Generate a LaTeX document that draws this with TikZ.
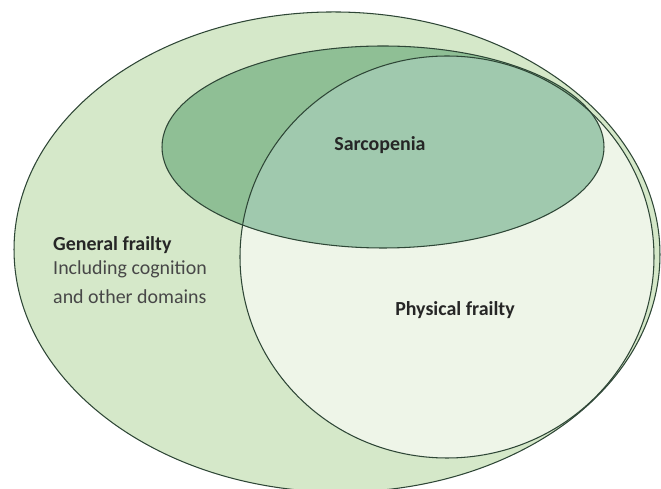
\documentclass[tikz,border=0pt]{standalone}
\usepackage{fontspec}
\setmainfont{Carlito}
\usepackage{tikz}
\definecolor{outline}{HTML}{2E4636}
\definecolor{general}{HTML}{D5E8C9}
\definecolor{physical}{HTML}{EEF5E8}
\definecolor{sarco}{HTML}{8FBF95}
\definecolor{overlap}{HTML}{A0C9AE}

\begin{document}
\begin{tikzpicture}[x=0.03cm, y=-0.03cm, every node/.style={font=\fontsize{17}{21.5}\selectfont, inner sep=0pt}, set/.style={draw=outline, line width=0.9pt}, lbl/.style={font=\fontsize{17}{21.5}\selectfont\bfseries, text=black!85}, sub/.style={text=black!72, align=left}]
	\useasboundingbox (0,0) rectangle (661,489);
	\coordinate (g) at (337,252);
	\coordinate (p) at (447,257);
	\coordinate (s) at (383,147);
	\fill[general, rotate around={-1:(g)}] (g) ellipse [x radius=323, y radius=240];
	\fill[physical] (p) ellipse [x radius=207, y radius=201];
	\fill[sarco] (s) ellipse [x radius=221, y radius=101];
	\begin{scope}
		\clip (p) ellipse [x radius=207, y radius=201];
		\fill[overlap] (s) ellipse [x radius=221, y radius=101];
	\end{scope}
	\draw[set, rotate around={-1:(g)}] (g) ellipse [x radius=323, y radius=240];
	\draw[set] (s) ellipse [x radius=221, y radius=101];
	\draw[set] (p) ellipse [x radius=207, y radius=201];
	\node[lbl] (sarcopenia) at (380,145) {Sarcopenia};
	\node[lbl] (physicalfrailty) at (455,310) {Physical frailty};
	\node[lbl, anchor=west] (generalfrailty) at (53,245) {General frailty};
	\node[sub, anchor=west] (domains) at (53,282) {Including cognition\\[3pt]and other domains};
\end{tikzpicture}
\end{document}
